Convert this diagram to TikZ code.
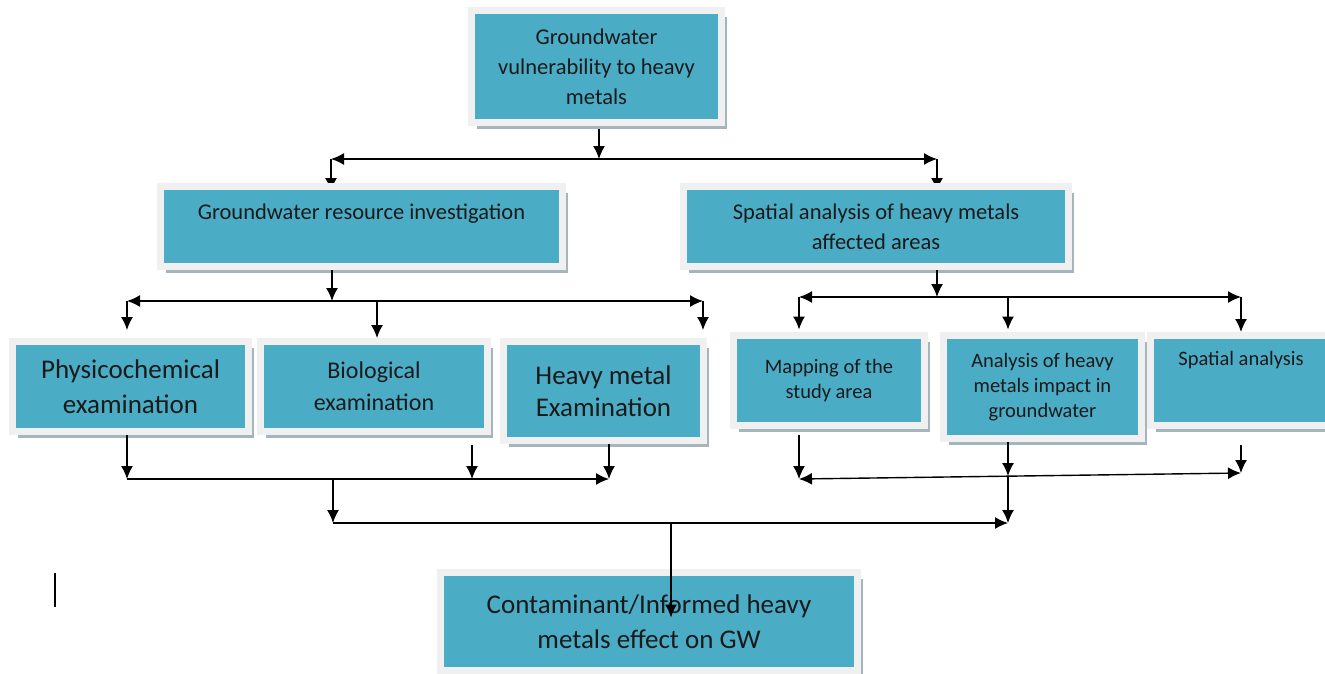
\documentclass[tikz,border=0pt]{standalone}
\usepackage{fontspec}
\setmainfont{Carlito}
\usetikzlibrary{arrows.meta,positioning,shadows,backgrounds}

\definecolor{boxteal}{HTML}{4BACC6}
\definecolor{boxframe}{HTML}{F0F0F0}
\definecolor{boxshade}{HTML}{A3B5BD}
\definecolor{inktext}{HTML}{1A1A1A}

\begin{document}
\begin{tikzpicture}[
    x=1pt, y=-1pt,
    every node/.style={text=inktext},
    box/.style={draw=boxframe, line width=7pt, fill=boxteal, align=center, inner sep=0pt,
        drop shadow={shadow xshift=5pt, shadow yshift=-6pt, fill=boxshade, opacity=1},
        font=\fontsize{22.5}{30}\selectfont},
    smallbox/.style={box, font=\fontsize{20.5}{25}\selectfont},
    bigbox/.style={box, font=\fontsize{27}{35}\selectfont},
    flow/.style={-{Latex[length=13pt,width=12pt]}, line width=1.4pt},
    twoway/.style={{Latex[length=13pt,width=12pt]}-{Latex[length=13pt,width=12pt]}, line width=1.4pt}
]
\useasboundingbox (0,0) rectangle (1325,673);

\node[box, minimum width=250pt, minimum height=112pt] (vuln) at (596.5,66.5) {Groundwater\\vulnerability to heavy\\metals};
\node[box, minimum width=402pt, minimum height=80pt, text height=16pt, text depth=31pt] (invest) at (361.5,226.5) {Groundwater resource investigation};
\node[box, minimum width=385pt, minimum height=80pt] (spatial) at (876,226.5) {Spatial analysis of heavy metals\\affected areas};
\node[bigbox, minimum width=236pt, minimum height=90pt] (physico) at (130.5,386.5) {Physicochemical\\examination};
\node[box, font=\fontsize{24}{32}\selectfont, minimum width=227pt, minimum height=90pt] (bio) at (374,386.5) {Biological\\examination};
\node[bigbox, font=\fontsize{27}{32}\selectfont, minimum width=200pt, minimum height=99pt] (heavy) at (603.5,391) {Heavy metal\\Examination};
\node[smallbox, minimum width=191pt, minimum height=90pt] (mapping) at (829,380.5) {Mapping of the\\study area};
\node[smallbox, minimum width=198pt, minimum height=103pt] (impact) at (1042.5,387) {Analysis of heavy\\metals impact in\\groundwater};
\node[smallbox, minimum width=181pt, minimum height=90pt, text height=15pt, text depth=45pt] (spatana) at (1241,380.5) {Spatial analysis};
\node[bigbox, minimum width=417pt, minimum height=98pt] (effect) at (649,621.5) {Contaminant/Informed heavy\\metals effect on GW};

% split and join points
\coordinate (splitA) at (599,159);
\coordinate (splitAl) at (331,159);
\coordinate (splitAr) at (937,159);
\coordinate (splitB) at (332,301);
\coordinate (splitBl) at (127,301);
\coordinate (splitBm) at (377,301);
\coordinate (splitBr) at (703,301);
\coordinate (splitC) at (937,297);
\coordinate (splitCl) at (799,297);
\coordinate (splitCm) at (1008,297);
\coordinate (splitCr) at (1241,297);
\coordinate (joinL) at (127,479);
\coordinate (joinLm) at (472,479);
\coordinate (joinLr) at (609,479);
\coordinate (joinLd) at (333,479);
\coordinate (joinR) at (799,479);
\coordinate (joinRm) at (1008,476);
\coordinate (joinRr) at (1241,473);
\coordinate (mergeL) at (333,523);
\coordinate (mergeR) at (1008,523);
\coordinate (mergeD) at (671,523);

\begin{scope}[on background layer]
\draw[flow] (vuln.south -| splitA) -- (splitA);
\draw[flow] (splitA) -- (splitAl);
\draw[flow] (splitA) -- (splitAr);
\draw[flow, shorten >=-8pt] (splitAl) -- (invest.north -| splitAl);
\draw[flow, shorten >=-8pt] (splitAr) -- (spatial.north -| splitAr);
\end{scope}

\draw[flow] (invest.south -| splitB) -- (splitB);
\draw[twoway] (splitBl) -- (splitBr);
\draw[flow, shorten >=8pt] (splitBl) -- (physico.north -| splitBl);
\draw[flow] (splitBm) -- (bio.north -| splitBm);
\draw[flow, shorten >=8pt] (splitBr) -- (heavy.north -| splitBr);

\draw[flow] (spatial.south -| splitC) -- (splitC);
\draw[twoway] (splitCl) -- (splitCr);
\draw[flow, shorten >=2.5pt] (splitCl) -- (mapping.north -| splitCl);
\draw[flow, shorten >=2.5pt] (splitCm) -- (impact.north -| splitCm);
\draw[flow] (splitCr) -- (spatana.north -| splitCr);

\draw[flow] (physico.south -| joinL) -- (joinL);
\draw[flow, shorten <=10pt] (bio.south -| joinLm) -- (joinLm);
\draw[flow] (heavy.south -| joinLr) -- (joinLr);
\draw[flow] (joinL) -- (joinLr);
\draw[flow] (joinLd) -- (mergeL);

\draw[flow, shorten <=6pt] (mapping.south -| joinR) -- (joinR);
\draw[flow] (impact.south -| joinRm) -- (joinRm);
\draw[flow, shorten <=16pt] (spatana.south -| joinRr) -- (joinRr);
\draw[twoway] (joinR) -- (joinRr);
\draw[flow] (joinRm) -- (mergeR);

\draw[flow] (mergeL) -- (mergeR);
\draw[flow, shorten >=4pt] (mergeD) -- (mergeD |- effect.center);

\draw[line width=1.6pt] (55,573) -- (55,607);
\end{tikzpicture}
\end{document}
